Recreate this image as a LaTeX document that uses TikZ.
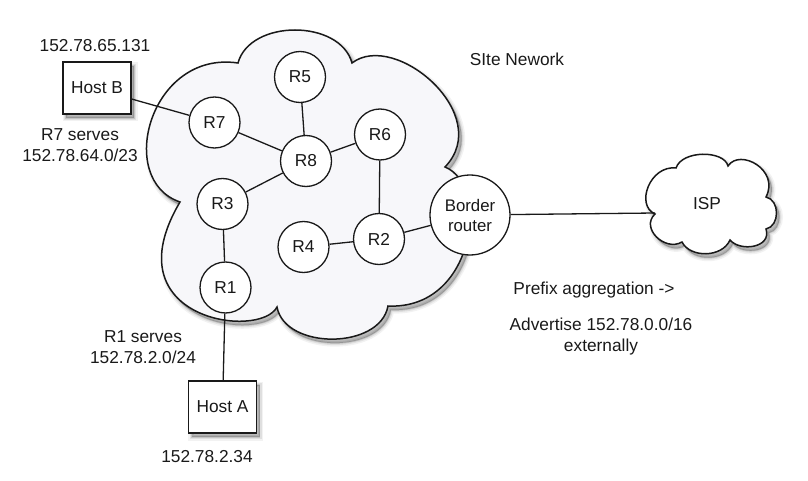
\documentclass[tikz,border=0pt]{standalone}
\usepackage{fontspec}
\setmainfont{Liberation Sans}
\definecolor{cloudfill}{RGB}{247,247,250}
\definecolor{ink}{RGB}{25,25,25}
\begin{document}
\begin{tikzpicture}[x=1pt,y=-1pt,
  every node/.style={font=\fontsize{17.3}{21}\selectfont, text=ink},
  softshadow/.style={
    preaction={draw=black, draw opacity=0.05, line width=7pt, fill=black, fill opacity=0.05, transform canvas={shift={(3pt,-4pt)}}},
    preaction={draw=black, draw opacity=0.08, line width=4pt, fill=black, fill opacity=0.08, transform canvas={shift={(3pt,-4pt)}}},
    preaction={draw=black, draw opacity=0.12, line width=1.5pt, fill=black, fill opacity=0.12, transform canvas={shift={(3pt,-4pt)}}}},
  router/.style={circle, draw=ink, fill=white, line width=1.3pt, minimum size=51pt, inner sep=0pt},
  hostbox/.style={rectangle, draw=ink, fill=white, line width=1.3pt, minimum width=68pt, minimum height=52pt, softshadow},
  link/.style={draw=ink, line width=1.3pt},
  cloudline/.style={draw=ink, line width=1.5pt, softshadow}
]
\useasboundingbox (0,0) rectangle (808,481);

% site network cloud
\path[cloudline, fill=cloudfill]
  (238,63) .. controls (250,19) and (340,19) .. (352,63)
  .. controls (395,30) and (495,115) .. (445,167)
  .. controls (490,185) and (475,310) .. (388,306)
  .. controls (380,350) and (285,350) .. (277,307)
  .. controls (260,340) and (110,320) .. (180,202)
  .. controls (115,180) and (150,50) .. (238,63) -- cycle;

% ISP cloud
\path[cloudline, fill=white]
  (655,214) .. controls (635,205) and (650,165) .. (676,168)
  .. controls (682,150) and (724,150) .. (728,166)
  .. controls (740,148) and (780,170) .. (766,197)
  .. controls (780,200) and (780,226) .. (766,229)
  .. controls (772,248) and (740,252) .. (730,240)
  .. controls (722,258) and (690,258) .. (682,242)
  .. controls (665,252) and (640,228) .. (655,214) -- cycle;
\coordinate (ISPl) at (655,213);

% routers
\node[router] (R5) at (300,77) {R5};
\node[router] (R7) at (214.5,122.5) {R7};
\node[router] (R6) at (380,134.5) {R6};
\node[router] (R8) at (306,161) {R8};
\node[router] (R3) at (222.5,204) {R3};
\node[router] (R2) at (379,239) {R2};
\node[router] (R4) at (303.5,247) {R4};
\node[router] (R1) at (225.5,287.5) {R1};
\node[router, minimum size=80pt, align=center, font=\fontsize{16.8}{20}\selectfont] (BR) at (470,215) {Border\\router};

% hosts
\node[hostbox] (HostB) at (97,88) {Host B};
\node[hostbox] (HostA) at (222.5,407) {Host A};

% labels
\node (ipB) at (95,46) {152.78.65.131};
\node[align=center] (R7lab) at (80,145) {R7 serves\\152.78.64.0/23};
\node[align=center] (R1lab) at (143,347) {R1 serves\\152.78.2.0/24};
\node (ipA) at (207,456.5) {152.78.2.34};
\node (site) at (517,59.5) {SIte Nework};
\node (ISP) at (707,204) {ISP};
\node (pref) at (594,290) {Prefix aggregation ->};
\node[align=center] (adv) at (601,337) {Advertise 152.78.0.0/16\\externally};

% links
\draw[link] ([yshift=-11pt]HostB.east) -- (R7);
\draw[link] (R7) -- (R8);
\draw[link] (R5) -- (R8);
\draw[link] (R8) -- (R6);
\draw[link] (R8) -- (R3);
\draw[link] (R3) -- (R1);
\draw[link] (R1) -- (HostA);
\draw[link] (R6) -- (R2);
\draw[link] (R4) -- (R2);
\draw[link] (R2) -- (BR);
\draw[link] (BR) -- (ISPl);
\end{tikzpicture}
\end{document}
